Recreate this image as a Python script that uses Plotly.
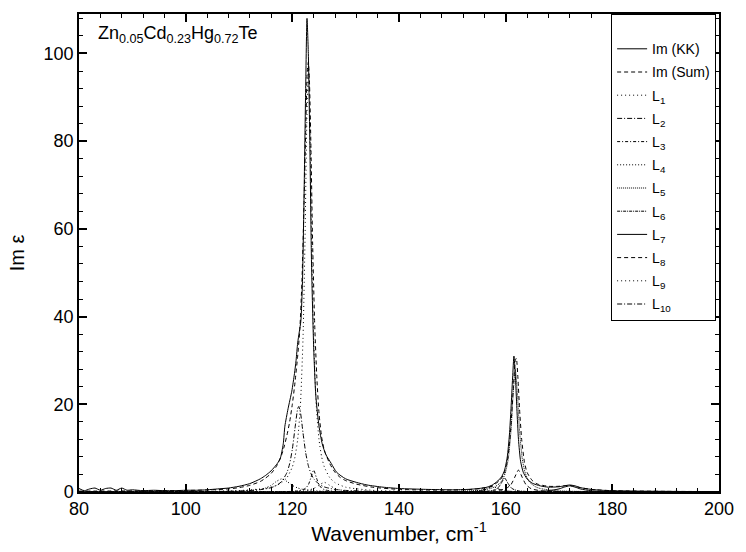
import plotly.graph_objects as go

# ---------------- data ----------------
kk_x = [80, 81, 82, 83, 84, 85, 86, 87, 88, 89, 90, 92, 94, 96, 98, 100, 102, 104, 106, 108,
        110, 112, 114, 115, 116, 117, 117.7, 118.3, 118.6, 119.2, 119.9, 120.4, 120.7, 121.0,
        121.3, 121.6, 121.9, 122.2, 122.5, 122.75, 123.0, 123.3, 123.6, 124.0, 124.4, 125.0,
        125.6, 126.3, 127.3, 128.3, 130, 132, 134, 137, 140, 145, 150, 153, 155, 156.5, 157.5,
        158.5, 159.3, 159.8, 160.3, 160.7, 161.0, 161.3, 161.55, 161.8, 162.1, 162.4, 162.8,
        163.3, 164, 165, 166.5, 168, 170, 171, 172, 173, 174, 176, 178, 180, 185, 190, 195, 200]
kk_y = [0.8, 0.3, 0.7, 0.9, 0.4, 0.8, 0.9, 0.4, 0.9, 0.4, 0.5, 0.3, 0.4, 0.3, 0.3, 0.4, 0.4, 0.5, 0.7, 0.9,
        1.3, 1.9, 3.0, 3.8, 4.8, 6.2, 7.5, 11, 15, 19, 23, 27, 30, 34,
        36.5, 39, 48, 68, 92, 108, 100, 78, 52, 33, 22, 15,
        11, 8.5, 6.5, 4.5, 3.0, 2.2, 1.6, 1.1, 0.8, 0.6, 0.5, 0.6, 0.8, 1.1, 1.6,
        2.5, 3.6, 5, 8, 13, 19, 26, 31, 27, 19, 12, 7,
        4.5, 3.0, 2.0, 1.4, 1.1, 1.2, 1.4, 1.6, 1.4, 1.0, 0.6, 0.4, 0.3, 0.2, 0.15, 0.1, 0.1]

sum_x = [80, 90, 100, 105, 108, 110, 112, 114, 115, 116, 117, 118, 118.5, 119, 119.5, 120, 120.5,
         121, 121.4, 121.8, 122.2, 122.5, 122.8, 123.0, 123.2, 123.5, 123.8, 124.2, 124.6, 125.0,
         125.5, 126, 127, 128, 129, 130, 132, 135, 140, 145, 150, 153, 155, 157, 158, 159, 159.7,
         160.3, 160.8, 161.2, 161.5, 161.8, 162.0, 162.3, 162.6, 163.0, 163.5, 164, 165, 166, 168,
         170, 172, 174, 176, 180, 190, 200]
sum_y = [0.2, 0.25, 0.35, 0.5, 0.7, 1.0, 1.5, 2.4, 3.2, 4.2, 5.8, 8.5, 10.5, 13, 16, 20, 25,
         31, 37, 48, 66, 82, 96, 98, 94, 78, 57, 38, 26, 18,
         12.5, 9.5, 6.5, 4.5, 3.3, 2.6, 1.8, 1.1, 0.6, 0.45, 0.45, 0.55, 0.75, 1.2, 1.8, 2.8, 4.2,
         7, 12, 19, 25, 30, 30.5, 26, 19, 12, 7, 4.5, 2.6, 1.8, 1.3,
         1.3, 1.5, 1.0, 0.6, 0.3, 0.15, 0.1]

l1_x = [80, 100, 110, 115, 117, 118, 119, 120, 120.5, 121, 121.5, 122, 122.4, 122.7, 123, 123.3,
        123.6, 124, 124.5, 125, 125.5, 126, 127, 128, 130, 135, 140, 150, 160, 180, 200]
l1_y = [0.03, 0.10, 0.32, 0.85, 1.49, 2.14, 3.30, 5.71, 8.0, 11.96, 19.4, 34.9, 59.1, 83.6, 97, 83.6,
        59.1, 34.9, 19.4, 11.96, 8.0, 5.71, 3.30, 2.14, 1.10, 0.38, 0.19, 0.075, 0.04, 0.02, 0.01]

l2_x = [80, 100, 110, 114, 116, 117, 118, 119, 119.5, 120, 120.5, 121, 121.2, 121.5, 122, 122.5,
        123, 123.5, 124, 125, 126, 128, 130, 135, 140, 150, 200]
l2_y = [0.017, 0.062, 0.22, 0.53, 0.98, 1.47, 2.40, 4.47, 6.48, 9.75, 14.55, 18.97, 19.5, 18.35, 13.5, 8.99,
        6.0, 4.18, 3.03, 1.77, 1.15, 0.59, 0.36, 0.15, 0.08, 0.03, 0.005]

l3_x = [80, 110, 115, 118, 120, 121, 122, 122.5, 123, 123.5, 124, 124.5, 125, 125.5, 126, 127,
        128, 130, 135, 150, 200]
l3_y = [0.001, 0.0125, 0.03, 0.067, 0.15, 0.26, 0.55, 0.89, 1.64, 3.31, 5.0, 3.31, 1.64, 0.89, 0.55, 0.26,
        0.15, 0.067, 0.02, 0.004, 0.0]

l4_x = [80, 100, 108, 110, 112, 114, 115, 116, 117, 118, 119, 120, 121, 122, 124, 126, 130, 140, 160, 200]
l4_y = [0.008, 0.037, 0.115, 0.176, 0.30, 0.60, 0.92, 1.5, 2.4, 3.0, 2.4, 1.5, 0.92, 0.60, 0.30, 0.176,
        0.081, 0.024, 0.007, 0.002]

l5_x = [80, 120, 140, 150, 155, 157, 158, 159, 159.5, 160, 160.5, 161, 161.4, 161.8, 162.2, 162.6,
        163.1, 163.6, 164.1, 164.6, 165.6, 166.6, 170, 180, 200]
l5_y = [0.003, 0.01, 0.038, 0.128, 0.38, 0.76, 1.19, 2.11, 3.02, 4.62, 7.69, 14, 22.4, 28, 22.4, 14,
        7.69, 4.62, 3.02, 2.11, 1.19, 0.76, 0.26, 0.054, 0.012]

l6_x = [80, 140, 150, 155, 157, 158, 158.6, 159.2, 159.8, 160.4, 161, 161.6, 162.6, 164.6, 170, 200]
l6_y = [0.0, 0.005, 0.021, 0.086, 0.24, 0.53, 0.98, 2.05, 3.2, 2.05, 0.98, 0.53, 0.24, 0.086, 0.02, 0.001]

l7_x = [80, 140, 160, 165, 168, 170, 171, 172, 173, 174, 176, 179, 184, 200]
l7_y = [0.0007, 0.005, 0.038, 0.106, 0.28, 0.7, 1.12, 1.4, 1.12, 0.7, 0.28, 0.106, 0.038, 0.007]

l8_x = [80, 140, 150, 155, 158, 160, 161, 161.7, 162.4, 163.1, 163.8, 164.8, 166.8, 170, 180, 200]
l8_y = [0.0, 0.01, 0.032, 0.09, 0.25, 0.74, 1.69, 3.36, 5.0, 3.36, 1.69, 0.74, 0.25, 0.085, 0.016, 0.0035]

l9_x = [80, 110, 115, 118, 120, 122, 123, 124, 125, 126, 127, 128, 129, 130, 132, 135, 140, 150, 200]
l9_y = [0.002, 0.019, 0.040, 0.075, 0.13, 0.27, 0.44, 0.79, 1.52, 2.2, 1.52, 0.79, 0.44, 0.27, 0.13,
        0.059, 0.025, 0.009, 0.0]

l10_x = [80, 140, 150, 153, 155, 156, 156.8, 157.5, 158.2, 159, 160, 162, 165, 170, 200]
l10_y = [0.0, 0.006, 0.032, 0.086, 0.24, 0.51, 0.97, 1.3, 0.97, 0.51, 0.24, 0.086, 0.032, 0.011, 0.001]

series_names = ["Im (KK)", "Im (Sum)", "L<sub>1</sub>", "L<sub>2</sub>", "L<sub>3</sub>",
                "L<sub>4</sub>", "L<sub>5</sub>", "L<sub>6</sub>", "L<sub>7</sub>",
                "L<sub>8</sub>", "L<sub>9</sub>", "L<sub>10</sub>"]
x_ticks = [80, 100, 120, 140, 160, 180, 200]
y_ticks = [0, 20, 40, 60, 80, 100]

# ---------------- styling ----------------
series_xy = [(kk_x, kk_y), (sum_x, sum_y), (l1_x, l1_y), (l2_x, l2_y), (l3_x, l3_y),
             (l4_x, l4_y), (l5_x, l5_y), (l6_x, l6_y), (l7_x, l7_y), (l8_x, l8_y),
             (l9_x, l9_y), (l10_x, l10_y)]
dashes = ["solid", "4px,3px", "1px,3px", "5px,2px,1px,2px", "3px,2px,1px,2px",
          "1px,2px", "1px,1px", "3px,1px,1px,1px", "solid", "4px,3px", "1px,3px",
          "5px,2px,1px,2px"]

FONT = "Liberation Sans, Arial, sans-serif"
fig = go.Figure()
for i, ((xs, ys), name, d) in enumerate(zip(series_xy, series_names, dashes)):
    fig.add_trace(go.Scatter(
        x=xs, y=ys, mode="lines", name=name, legendgroup=str(i),
        line=dict(color="black", width=1, dash=d, shape="spline", smoothing=0.6),
    ))

fig.add_annotation(
    text="Zn<sub>0.05</sub>Cd<sub>0.23</sub>Hg<sub>0.72</sub>Te",
    xref="paper", yref="paper", x=0.027, y=0.985, xanchor="left", yanchor="top",
    showarrow=False, font=dict(family=FONT, size=18, color="black"),
)

axis_common = dict(
    showline=True, linecolor="black", linewidth=1.5, mirror="ticks",
    ticks="inside", ticklen=8, tickwidth=1.5, tickcolor="black",
    showgrid=False, zeroline=False,
    tickfont=dict(family=FONT, size=18, color="black"),
)
fig.update_xaxes(
    range=[80, 200], tickvals=x_ticks, ticktext=[str(v) for v in x_ticks],
    minor=dict(ticks="inside", ticklen=4, tickwidth=1.2, tickcolor="black", dtick=4, showgrid=False),
    title=dict(text="Wavenumber, cm<sup>-1</sup>", font=dict(family=FONT, size=21, color="black"), standoff=6),
    **axis_common,
)
fig.update_yaxes(
    range=[0, 109], tickvals=y_ticks, ticktext=[str(v) for v in y_ticks],
    minor=dict(ticks="inside", ticklen=4, tickwidth=1.2, tickcolor="black", dtick=4, showgrid=False),
    title=dict(text="Im ε", font=dict(family=FONT, size=20, color="black"), standoff=14),
    **axis_common,
)

fig.update_layout(
    width=746, height=552,
    margin=dict(l=79, r=18, t=12, b=59),
    plot_bgcolor="white", paper_bgcolor="white",
    showlegend=True,
    legend=dict(
        x=0.9955, y=1.0, xanchor="right", yanchor="top",
        bordercolor="black", borderwidth=1, bgcolor="white",
        font=dict(family=FONT, size=14, color="black"),
        tracegroupgap=2, traceorder="grouped",
        title=dict(text=" ", font=dict(size=14)),
        itemwidth=30,
    ),
)

fig.write_html("out.html")
